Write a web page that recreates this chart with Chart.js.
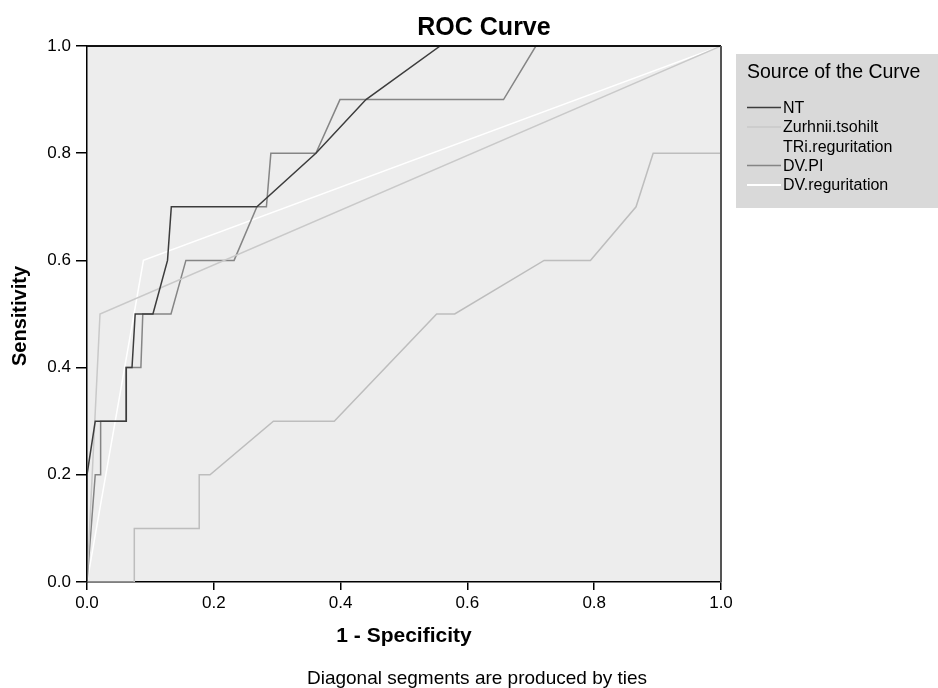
<!DOCTYPE html>
<html>
<head>
<meta charset="utf-8">
<script src="https://cdn.jsdelivr.net/npm/chart.js@4.4.0/dist/chart.umd.min.js"></script>
<style>
  html, body { margin: 0; padding: 0; background: #ffffff; }
  #wrap { width: 938px; height: 688px; position: relative; }
</style>
</head>
<body>
<div id="wrap"><canvas id="c" width="938" height="688"></canvas></div>
<script>
// ---- Data ----
const chartTitle = "ROC Curve";
const xAxisTitle = "1 - Specificity";
const yAxisTitle = "Sensitivity";
const footnote = "Diagonal segments are produced by ties";
const legendTitle = "Source of the Curve";
const seriesNames = ["NT", "Zurhnii.tsohilt", "TRi.reguritation", "DV.PI", "DV.reguritation"];
const tickValues = [0.0, 0.2, 0.4, 0.6, 0.8, 1.0];

const ntX = [0, 0, 0.013, 0.062, 0.062, 0.071, 0.076, 0.104, 0.127, 0.133, 0.268, 0.361, 0.440, 0.557, 1.0];
const ntY = [0, 0.2, 0.3, 0.3, 0.4, 0.4, 0.5, 0.5, 0.6, 0.7, 0.7, 0.8, 0.9, 1.0, 1.0];

const zurX = [0, 0.0205, 1.0];
const zurY = [0, 0.5, 1.0];

const triX = [0, 0.0746, 0.0746, 0.177, 0.177, 0.194, 0.294, 0.390, 0.5515, 0.580, 0.721, 0.794, 0.866, 0.893, 1.0, 1.0];
const triY = [0, 0, 0.1, 0.1, 0.2, 0.2, 0.3, 0.3, 0.5, 0.5, 0.6, 0.6, 0.7, 0.8, 0.8, 1.0];

const dvpiX = [0, 0.013, 0.0215, 0.0215, 0.0615, 0.0615, 0.085, 0.088, 0.1325, 0.156, 0.232, 0.268, 0.283, 0.290, 0.361, 0.399, 0.657, 0.708, 1.0];
const dvpiY = [0, 0.2, 0.2, 0.3, 0.3, 0.4, 0.4, 0.5, 0.5, 0.6, 0.6, 0.7, 0.7, 0.8, 0.8, 0.9, 0.9, 1.0, 1.0];

const dvrX = [0, 0.089, 1.0];
const dvrY = [0, 0.6, 1.0];

// ---- build ----
function pts(xs, ys) { return xs.map((x, i) => ({ x: x, y: ys[i] })); }

const lineColors = ["#3c3c3c", "#c9c9c9", "#bdbdbd", "#858585", "#ffffff"];
const legendSample = [true, true, false, true, true];

const datasets = [
  { label: seriesNames[0], data: pts(ntX, ntY) },
  { label: seriesNames[1], data: pts(zurX, zurY) },
  { label: seriesNames[2], data: pts(triX, triY) },
  { label: seriesNames[3], data: pts(dvpiX, dvpiY) },
  { label: seriesNames[4], data: pts(dvrX, dvrY) }
].map((d, i) => Object.assign(d, {
  showLine: true, borderColor: lineColors[i], backgroundColor: lineColors[i],
  borderWidth: 1.5, pointRadius: 0, pointHoverRadius: 0, tension: 0, fill: false
}));

const FONT = "'Liberation Sans', Arial, Helvetica, sans-serif";

const decor = {
  id: 'decor',
  beforeDraw(chart) {
    const { ctx, chartArea: a } = chart;
    ctx.save();
    ctx.fillStyle = '#ededed';
    ctx.fillRect(a.left, a.top, a.right - a.left, a.bottom - a.top);
    ctx.restore();
  },
  afterDraw(chart) {
    const { ctx, chartArea: a } = chart;
    ctx.save();
    // top and right frame lines
    ctx.strokeStyle = '#111';
    ctx.lineWidth = 2;
    ctx.beginPath();
    ctx.moveTo(a.left, a.top); ctx.lineTo(a.right, a.top);
    ctx.stroke();
    ctx.strokeStyle = '#555';
    ctx.beginPath();
    ctx.moveTo(a.right, a.top); ctx.lineTo(a.right, a.bottom);
    ctx.stroke();

    ctx.fillStyle = '#000';
    // title
    ctx.font = "bold 25px " + FONT;
    ctx.textAlign = 'center';
    ctx.textBaseline = 'alphabetic';
    ctx.fillText(chartTitle, 484, 35);
    // x axis title
    ctx.font = "bold 21px " + FONT;
    ctx.fillText(xAxisTitle, 404, 642);
    // y axis title
    ctx.save();
    ctx.translate(26, 316);
    ctx.rotate(-Math.PI / 2);
    ctx.font = "bold 20px " + FONT;
    ctx.fillText(yAxisTitle, 0, 0);
    ctx.restore();
    // footnote
    ctx.font = "19px " + FONT;
    ctx.fillText(footnote, 477, 684);

    // legend box
    ctx.fillStyle = '#d9d9d9';
    ctx.fillRect(736, 54, 202, 154);
    ctx.fillStyle = '#000';
    ctx.textAlign = 'left';
    ctx.textBaseline = 'middle';
    ctx.font = "19.5px " + FONT;
    ctx.fillText(legendTitle, 747, 73);
    ctx.font = "16px " + FONT;
    const ys = [107.5, 127, 146.5, 165.5, 185];
    chart.data.datasets.forEach((ds, i) => {
      if (legendSample[i]) {
        ctx.strokeStyle = ds.borderColor;
        ctx.lineWidth = i === 4 ? 2 : 1.5;
        ctx.beginPath();
        ctx.moveTo(747, ys[i]); ctx.lineTo(781, ys[i]);
        ctx.stroke();
      }
      ctx.fillStyle = '#000';
      ctx.fillText(ds.label, 783, ys[i] + 1);
    });
    ctx.restore();
  }
};

new Chart(document.getElementById('c'), {
  type: 'scatter',
  data: { datasets: datasets },
  options: {
    responsive: false,
    animation: false,
    layout: { padding: { left: 0, top: 46, right: 217, bottom: 0 } },
    plugins: { legend: { display: false }, title: { display: false }, tooltip: { enabled: false } },
    scales: {
      x: {
        type: 'linear', min: 0, max: 1,
        afterFit(s) { s.height = 106; },
        afterBuildTicks(s) { s.ticks = tickValues.map(v => ({ value: v })); },
        ticks: { color: '#000', font: { family: FONT, size: 17 }, padding: 3,
                 callback: v => Number(v).toFixed(1) },
        grid: { drawOnChartArea: false, drawTicks: true, tickLength: 8, color: '#000', lineWidth: 1.5 },
        border: { display: true, color: '#000', width: 1.5 }
      },
      y: {
        type: 'linear', min: 0, max: 1,
        afterFit(s) { s.width = 87; },
        afterBuildTicks(s) { s.ticks = tickValues.map(v => ({ value: v })); },
        ticks: { color: '#000', font: { family: FONT, size: 17 }, padding: 5,
                 callback: v => Number(v).toFixed(1) },
        grid: { drawOnChartArea: false, drawTicks: true, tickLength: 11, color: '#000', lineWidth: 1.5 },
        border: { display: true, color: '#000', width: 1.5 }
      }
    }
  },
  plugins: [decor]
});
</script>
</body>
</html>
